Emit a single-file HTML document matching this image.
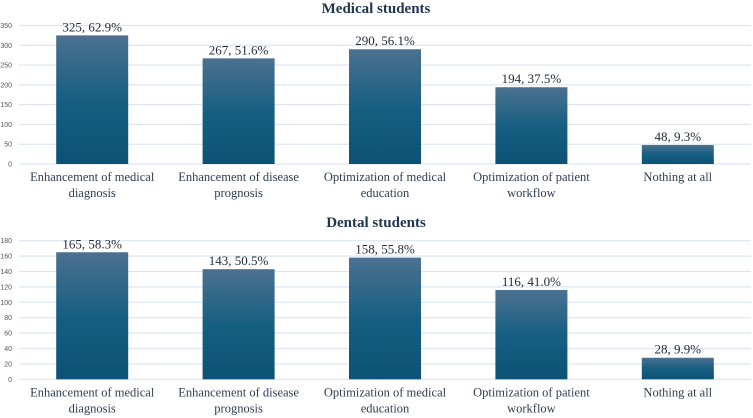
<!DOCTYPE html>
<html><head><meta charset="utf-8"><style>
body{margin:0;background:#fff;width:753px;height:418px;overflow:hidden}
svg{display:block}
</style></head><body>
<svg width="753" height="418">
<defs><linearGradient id="g" x1="0" y1="0" x2="0" y2="1"><stop offset="0" stop-color="#4c7190"/><stop offset="0.5" stop-color="#175f82"/><stop offset="1" stop-color="#0b5275"/></linearGradient></defs>
<g id="root"></g>
</svg>
<script>
const categories=[["Enhancement of medical","diagnosis"],["Enhancement of disease","prognosis"],["Optimization of medical","education"],["Optimization of patient","workflow"],["Nothing at all",""]];
const medValues=[325,267,290,194,48];
const medPct=["62.9%","51.6%","56.1%","37.5%","9.3%"];
const denValues=[165,143,158,116,28];
const denPct=["58.3%","50.5%","55.8%","41.0%","9.9%"];
const medTicks=[0,50,100,150,200,250,300,350];
const denTicks=[0,20,40,60,80,100,120,140,160,180];
const NS="http://www.w3.org/2000/svg";
const root=document.getElementById('root');
function mk(tag,attrs,parent){const e=document.createElementNS(NS,tag);for(const k in attrs)e.setAttribute(k,attrs[k]);(parent||root).appendChild(e);return e;}
function chart(name,title,titleY,y0,y1,max,ticks,vals,pcts){
  const g=mk('g',{});
  
  
  const x0=19,x1=751,bw=(x1-x0)/categories.length;
  const ys=v=>y0-(v/max)*(y0-y1);
  const t=mk('text',{x:376,y:titleY,'text-anchor':'middle','font-family':'Liberation Serif, serif','font-weight':'bold','font-size':'15',fill:'#1f3550'},g);
  t.textContent=title;
  
  
  ticks.forEach(v=>{
    const y=ys(v);
    const l=mk('line',{x1:x0,x2:x1,y1:y,y2:y,stroke:'#dbe5f3','stroke-width':'1.2'},g);
    
    
    const tl=mk('text',{x:12,y:y+2.5,'text-anchor':'end','font-family':'Liberation Sans, sans-serif','font-size':'7',fill:'#555'},g);
    tl.textContent=v;
    
    
  });
  vals.forEach((v,i)=>{
    const cx=x0+bw*(i+0.5),w=72;
    const r=mk('rect',{x:cx-w/2,y:ys(v),width:w,height:y0-ys(v),fill:'url(#g)'},g);
    
    
    const lb=mk('text',{x:cx,y:ys(v)-4,'text-anchor':'middle','font-family':'Liberation Serif, serif','font-size':'13',fill:'#1e2a38'},g);
    lb.textContent=v+', '+pcts[i];
    
    
    categories[i].forEach((s,j)=>{
      const c=mk('text',{x:cx,y:y0+17+j*16,'text-anchor':'middle','font-family':'Liberation Serif, serif','font-size':'12.5',fill:'#2e3d52'},g);
      c.textContent=s;
      
      
    });
  });
}
chart('medical-chart','Medical students',13,164,25.5,350,medTicks,medValues,medPct);
chart('dental-chart','Dental students',227,379.3,240.7,180,denTicks,denValues,denPct);
</script>
</body></html>
